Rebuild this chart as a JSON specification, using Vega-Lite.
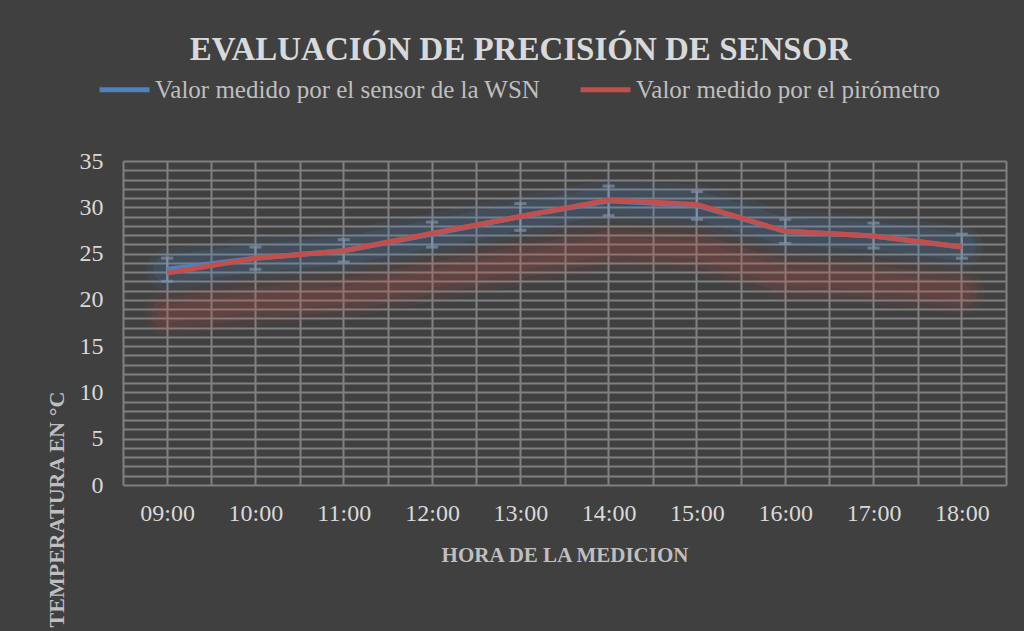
{
  "$schema": "https://vega.github.io/schema/vega-lite/v6.json",
  "width": 883,
  "height": 324,
  "autosize": {"type": "none"},
  "padding": {"left": 123, "top": 161, "right": 18, "bottom": 146},
  "background": "#404040",
  "title": {
    "text": "EVALUACIÓN DE PRECISIÓN DE SENSOR",
    "font": "Liberation Serif",
    "fontSize": 33,
    "fontWeight": "bold",
    "color": "#d9d9d9",
    "anchor": "middle",
    "dx": -44,
    "dy": 25,
    "offset": 20
  },
  "data": {
    "values": [
      {"hora": "09:00", "sensor": 23.3, "pirometro": 22.9, "lo": 22.0, "hi": 24.5, "sombra": 18.5},
      {"hora": "10:00", "sensor": 24.5, "pirometro": 24.5, "lo": 23.3, "hi": 25.7, "sombra": 19.7},
      {"hora": "11:00", "sensor": 25.3, "pirometro": 25.3, "lo": 24.1, "hi": 26.5, "sombra": 20.5},
      {"hora": "12:00", "sensor": 27.1, "pirometro": 27.2, "lo": 25.7, "hi": 28.4, "sombra": 22.3},
      {"hora": "13:00", "sensor": 29.0, "pirometro": 29.0, "lo": 27.5, "hi": 30.4, "sombra": 24.1},
      {"hora": "14:00", "sensor": 30.7, "pirometro": 30.8, "lo": 29.1, "hi": 32.3, "sombra": 25.8},
      {"hora": "15:00", "sensor": 30.2, "pirometro": 30.3, "lo": 28.7, "hi": 31.7, "sombra": 25.4},
      {"hora": "16:00", "sensor": 27.4, "pirometro": 27.4, "lo": 26.1, "hi": 28.7, "sombra": 22.5},
      {"hora": "17:00", "sensor": 26.9, "pirometro": 26.9, "lo": 25.6, "hi": 28.3, "sombra": 22.0},
      {"hora": "18:00", "sensor": 25.7, "pirometro": 25.7, "lo": 24.5, "hi": 27.1, "sombra": 20.9}
    ]
  },
  "resolve": {"axis": {"x": "independent", "y": "independent"}},
  "layer": [
    {
      "mark": {"type": "line", "color": "#c0504d", "strokeWidth": 46, "opacity": 0.07, "strokeCap": "round", "strokeJoin": "round"},
      "encoding": {
        "x": {"field": "hora", "type": "ordinal", "scale": {"paddingInner": 0, "paddingOuter": 0},
              "axis": {"orient": "bottom", "labels": false, "title": null, "grid": true, "bandPosition": 0.5}},
        "y": {"field": "sombra", "type": "quantitative", "scale": {"domain": [0, 35], "nice": false},
              "axis": {"orient": "left", "values": [0,1,2,3,4,5,6,7,8,9,10,11,12,13,14,15,16,17,18,19,20,21,22,23,24,25,26,27,28,29,30,31,32,33,34,35],
                       "labelExpr": "datum.value % 5 === 0 ? datum.label : ''",
                       "labelOverlap": false, "labelPadding": 20, "grid": true,
                       "title": "TEMPERATURA EN °C", "titleAngle": 270, "titleX": -67, "titleY": 348,
                       "titleAlign": "center", "titleBaseline": "middle", "titleFontSize": 22}}
      }
    },
    {
      "mark": {"type": "line", "color": "#c0504d", "strokeWidth": 32, "opacity": 0.1, "strokeCap": "round", "strokeJoin": "round"},
      "encoding": {
        "x": {"field": "hora", "type": "ordinal", "axis": null},
        "y": {"field": "sombra", "type": "quantitative", "axis": null}
      }
    },
    {
      "mark": {"type": "line", "color": "#c0504d", "strokeWidth": 18, "opacity": 0.12, "strokeCap": "round", "strokeJoin": "round"},
      "encoding": {
        "x": {"field": "hora", "type": "ordinal", "axis": null},
        "y": {"field": "sombra", "type": "quantitative", "axis": null}
      }
    },
    {
      "mark": {"type": "line", "color": "#4f81bd", "strokeWidth": 42, "opacity": 0.1, "strokeCap": "round", "strokeJoin": "round"},
      "encoding": {
        "x": {"field": "hora", "type": "ordinal", "axis": null},
        "y": {"field": "sensor", "type": "quantitative", "axis": null}
      }
    },
    {
      "mark": {"type": "line", "color": "#4f81bd", "strokeWidth": 28, "opacity": 0.14, "strokeCap": "round", "strokeJoin": "round"},
      "encoding": {
        "x": {"field": "hora", "type": "ordinal", "axis": null},
        "y": {"field": "sensor", "type": "quantitative", "axis": null}
      }
    },
    {
      "mark": {"type": "rule", "color": "#7f8ea3", "strokeWidth": 2},
      "encoding": {
        "x": {"field": "hora", "type": "ordinal", "axis": null},
        "y": {"field": "lo", "type": "quantitative", "axis": null},
        "y2": {"field": "hi"}
      }
    },
    {
      "mark": {"type": "tick", "color": "#7f8ea3", "size": 12, "thickness": 3},
      "encoding": {
        "x": {"field": "hora", "type": "ordinal", "axis": null},
        "y": {"field": "lo", "type": "quantitative", "axis": null}
      }
    },
    {
      "mark": {"type": "tick", "color": "#7f8ea3", "size": 12, "thickness": 3},
      "encoding": {
        "x": {"field": "hora", "type": "ordinal", "axis": null},
        "y": {"field": "hi", "type": "quantitative", "axis": null}
      }
    },
    {
      "transform": [{"fold": ["sensor", "pirometro"], "as": ["serie", "valor"]}],
      "mark": {"type": "line", "strokeWidth": 5, "strokeJoin": "round"},
      "encoding": {
        "x": {"field": "hora", "type": "ordinal",
              "axis": {"orient": "bottom", "labelPadding": 16, "grid": true, "tickBand": "extent", "labelAngle": 0,
                       "title": "HORA DE LA MEDICION", "titleFontSize": 21, "titlePadding": 19}},
        "y": {"field": "valor", "type": "quantitative", "axis": null},
        "color": {
          "field": "serie", "type": "nominal",
          "scale": {"domain": ["sensor", "pirometro"], "range": ["#4f81bd", "#c0504d"]},
          "legend": {
            "title": null, "orient": "none", "direction": "horizontal",
            "legendX": -26, "legendY": -99,
            "labelExpr": "datum.value === 'sensor' ? 'Valor medido por el sensor de la WSN' : 'Valor medido por el pirómetro'"
          }
        }
      }
    }
  ],
  "config": {
    "view": {"stroke": null},
    "axis": {
      "gridColor": "#808080", "gridWidth": 2, "gridOpacity": 1,
      "domain": false, "ticks": false,
      "labelFont": "Liberation Serif", "labelFontSize": 24, "labelColor": "#d9d9d9",
      "titleFont": "Liberation Serif", "titleFontWeight": "bold", "titleColor": "#bfbfbf"
    },
    "legend": {
      "symbolType": "stroke", "symbolSize": 2500, "symbolStrokeWidth": 5,
      "labelFont": "Liberation Serif", "labelFontSize": 25, "labelColor": "#bfbfbf",
      "labelOffset": 3, "columnPadding": 29, "labelLimit": 600
    }
  }
}
